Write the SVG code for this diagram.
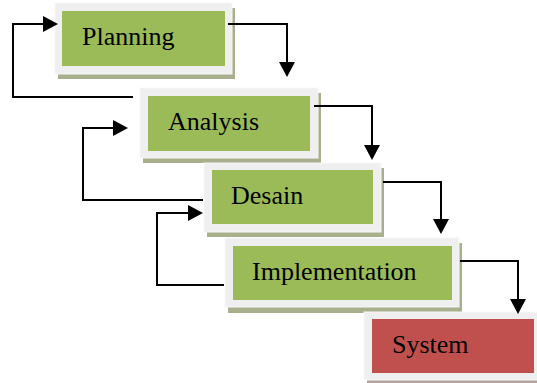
<svg xmlns="http://www.w3.org/2000/svg" width="537" height="383" viewBox="0 0 537 383">
<defs>
<marker id="ah" markerUnits="userSpaceOnUse" markerWidth="15" markerHeight="16" viewBox="0 0 15 16" refX="12" refY="8" orient="auto">
<path d="M0,0 L15,8 L0,16 z" fill="#000"/>
</marker>
</defs>
<style>
.frame{fill:#efefef;stroke:#f7f7f7;stroke-width:1}
.shadow{fill:#a7af8d}
.shadowR{fill:#b9a3a2}
.green{fill:#9bbb59}
.red{fill:#c0504d}
.lbl{font-family:"Liberation Serif","Times New Roman",serif;font-size:26px;fill:#000}
.conn{fill:none;stroke:#000;stroke-width:2;marker-end:url(#ah)}
</style>
<rect width="537" height="383" fill="#fff"/>
<g id="node-planning">
<rect class="shadow" x="58" y="8" width="177" height="71"/>
<rect class="frame" x="55" y="3" width="177" height="71"/>
<rect class="green" x="62" y="11" width="163" height="55"/>
<text class="lbl" x="82" y="45">Planning</text>
</g>
<g id="node-analysis">
<rect class="shadow" x="143" y="93" width="178" height="70"/>
<rect class="frame" x="140" y="88" width="178" height="70"/>
<rect class="green" x="148" y="96" width="162" height="55"/>
<text class="lbl" x="168" y="130">Analysis</text>
</g>
<g id="node-desain">
<rect class="shadow" x="207" y="168" width="177" height="69"/>
<rect class="frame" x="204" y="163" width="177" height="69"/>
<rect class="green" x="212" y="170" width="161" height="54"/>
<text class="lbl" x="231" y="204">Desain</text>
</g>
<g id="node-implementation">
<rect class="shadow" x="228" y="243" width="234" height="70"/>
<rect class="frame" x="225" y="238" width="234" height="69"/>
<rect class="green" x="233" y="246" width="219" height="54"/>
<text class="lbl" x="252" y="280">Implementation</text>
</g>
<g id="node-system">
<rect class="shadowR" x="367" y="317" width="177" height="70"/>
<rect class="frame" x="364" y="312" width="177" height="68"/>
<rect class="red" x="372" y="319" width="162" height="54"/>
<text class="lbl" x="392" y="353">System</text>
</g>
<g id="connectors">
<path class="conn" d="M228,24 H287 V74"/>
<path class="conn" d="M314,106 H372 V157"/>
<path class="conn" d="M383,182 H441 V231"/>
<path class="conn" d="M460,261 H518 V311"/>
<path class="conn" d="M133,97 H13 V24 H55"/>
<path class="conn" d="M203,200 H83 V128 H125"/>
<path class="conn" d="M224,285 H157 V213 H200"/>
</g>
</svg>
